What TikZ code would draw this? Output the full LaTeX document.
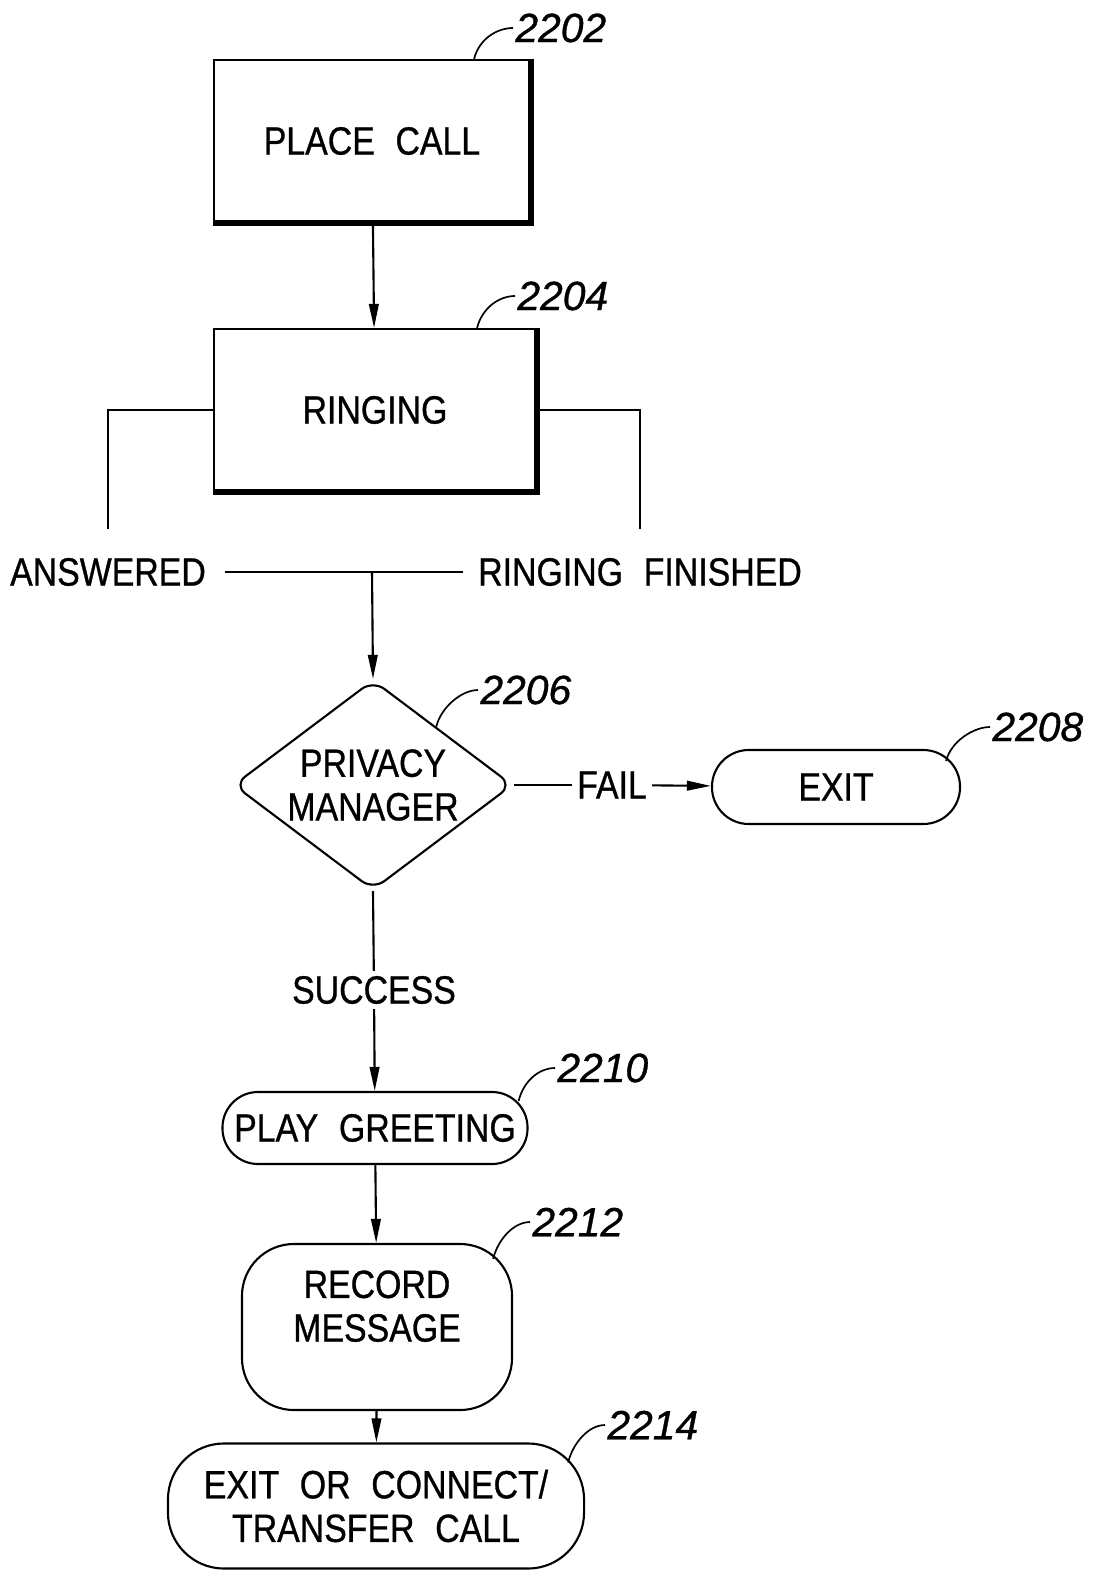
\documentclass[tikz,border=0pt]{standalone}
\usepackage{fontspec}
\setmainfont{Liberation Sans}[FakeStretch=0.86, WordSpace=2.2, FakeBold=0.8]
\newfontfamily\refnumfont{Liberation Sans}[FakeBold=0.8]
\usepackage{tikz}
\usetikzlibrary{shapes.geometric, arrows.meta, calc, positioning}

\begin{document}
\begin{tikzpicture}[x=0.025cm, y=-0.025cm, line width=1.5pt,
    every node/.style={font=\fontsize{28}{31}\selectfont},
    procbox/.style={draw, rectangle, minimum width=7.9cm, minimum height=4.05cm},
    termbox/.style={draw, rectangle, align=center},
    flowtext/.style={inner sep=3pt},
    reflabel/.style={anchor=west, inner sep=1pt, font=\refnumfont\itshape\fontsize{29}{31}\selectfont},
    >={Triangle[length=6mm, width=2.4mm]}]
    \useasboundingbox (0,0) rectangle (1103,1575);

    % Steps
    \node[procbox] (place) at (372,141) {PLACE CALL};
    \node[procbox, minimum width=8.05cm] (ringing) at (375,410) {RINGING};
    \draw[line width=4pt] (place.north east) -- (place.south east) -- (place.south west);
    \draw[line width=4pt] (ringing.north east) -- (ringing.south east) -- (ringing.south west);

    % Outcomes of ringing
    \node[inner xsep=0.45cm, inner ysep=0.7cm] (answered) at (108,572) {ANSWERED};
    \node[inner xsep=0.35cm, inner ysep=0.7cm] (finished) at (640,572) {RINGING FINISHED};
    \coordinate (merge) at (372,572);

    % Decision and terminals
    \node[draw, diamond, aspect=1.33, minimum width=6.975cm, minimum height=5.25cm, inner sep=0pt, align=center, rounded corners=10pt] (privacy) at (373,785) {PRIVACY\\MANAGER};
    \node[flowtext] (fail) at (612,785) {FAIL};
    \node[termbox, rounded corners=0.92cm, minimum width=6.2cm, minimum height=1.85cm] (exit) at (836,787) {EXIT};
    \node[flowtext] (success) at (374,990) {SUCCESS};
    \node[termbox, rounded corners=0.89cm, minimum width=7.625cm, minimum height=1.8cm] (greeting) at (375,1128) {PLAY GREETING};
    \node[termbox, rounded corners=1.3cm, minimum width=6.75cm, minimum height=4.15cm, text depth=1.05cm] (record) at (377,1327) {RECORD\\MESSAGE};
    \node[termbox, rounded corners=1.4cm, minimum width=10.4cm, minimum height=3.125cm] (finish) at (376,1506) {EXIT OR CONNECT/\\TRANSFER CALL};

    % Connectors
    \draw[->] (place) -- (ringing);
    \draw (ringing.west) -| (answered.north);
    \draw (ringing.east) -| (finished.north);
    \draw (answered) -- (finished);
    \draw[->] (merge) -- (privacy.north);
    \draw (privacy.east) -- (fail);
    \draw[->] (fail) -- (exit);
    \draw (privacy.south) -- (success);
    \draw[->] (success) -- (greeting);
    \draw[->] (greeting) -- (record);
    \draw[->] (record) -- (finish);

    % Reference numerals
    \node[reflabel] (n2202) at (513,28) {2202};
    \node[reflabel] (n2204) at (515,296) {2204};
    \node[reflabel] (n2206) at (478,690) {2206};
    \node[reflabel] (n2208) at (990,727) {2208};
    \node[reflabel] (n2210) at (555,1068) {2210};
    \node[reflabel] (n2212) at (530,1222) {2212};
    \node[reflabel] (n2214) at (605,1425) {2214};
    \draw[line width=1.2pt] ($(place.north east)+(-57,0)$) .. controls +(5,-20) and +(-16,0) .. (n2202.west);
    \draw[line width=1.2pt] ($(ringing.north east)+(-60,0)$) .. controls +(5,-20) and +(-16,0) .. (n2204.west);
    \draw[line width=1.2pt] ($(privacy.north)!0.45!(privacy.east)$) .. controls +(5,-20) and +(-16,0) .. (n2206.west);
    \draw[line width=1.2pt] ($(exit.north east)+(-15,12)$) .. controls +(5,-20) and +(-16,0) .. (n2208.west);
    \draw[line width=1.2pt] ($(greeting.north east)+(-10,10)$) .. controls +(5,-20) and +(-16,0) .. (n2210.west);
    \draw[line width=1.2pt] ($(record.north east)+(-20,16)$) .. controls +(5,-20) and +(-16,0) .. (n2212.west);
    \draw[line width=1.2pt] ($(finish.north east)+(-17,20)$) .. controls +(5,-20) and +(-16,0) .. (n2214.west);
\end{tikzpicture}
\end{document}
